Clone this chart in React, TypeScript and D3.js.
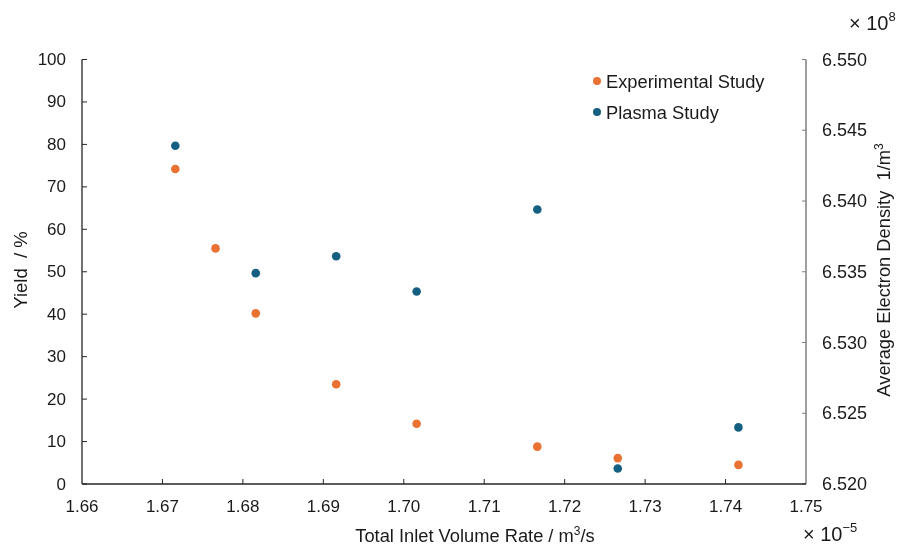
import { useEffect, useRef } from 'react'
import * as d3 from 'd3'

// x values are in units of 1e-5 m3/s
const expX = [1.6716, 1.6766, 1.6816, 1.6916, 1.7016, 1.7166, 1.7266, 1.7416]
const expYield = [74.2, 55.5, 40.2, 23.5, 14.2, 8.8, 6.1, 4.5]

// electron density in units of 1e8 1/m3
const plasmaX = [1.6716, 1.6816, 1.6916, 1.7016, 1.7166, 1.7266, 1.7416]
const plasmaDensity = [6.5439, 6.5349, 6.5361, 6.5336, 6.5394, 6.5211, 6.5240]

const xTicks = [1.66, 1.67, 1.68, 1.69, 1.70, 1.71, 1.72, 1.73, 1.74, 1.75]
const yTicks = [0, 10, 20, 30, 40, 50, 60, 70, 80, 90, 100]
const y2Ticks = [6.520, 6.525, 6.530, 6.535, 6.540, 6.545, 6.550]

const ORANGE = '#e97132'
const BLUE = '#156082'
const FONT = 'Liberation Sans, Arial, sans-serif'

export default function App() {
  const svgRef = useRef<SVGSVGElement | null>(null)

  useEffect(() => {
    if (!svgRef.current) return
    const svg = d3.select(svgRef.current)
    svg.selectAll('*').remove()

    const width = 900
    const height = 545
    const left = 82
    const right = 806
    const top = 59.5
    const bottom = 484

    svg.attr('width', width).attr('height', height)
      .style('font-family', FONT)

    const x = d3.scaleLinear().domain([1.66, 1.75]).range([left, right])
    const y = d3.scaleLinear().domain([0, 100]).range([bottom, top])
    const y2 = d3.scaleLinear().domain([6.520, 6.550]).range([bottom, top])

    // left axis
    svg.append('line')
      .attr('x1', left).attr('x2', left).attr('y1', top).attr('y2', bottom)
      .attr('stroke', '#262626').attr('stroke-width', 1.3)
    yTicks.forEach(t => {
      svg.append('line')
        .attr('x1', left).attr('x2', left + 5).attr('y1', y(t)).attr('y2', y(t))
        .attr('stroke', '#262626').attr('stroke-width', 1)
      svg.append('text')
        .attr('x', 66).attr('y', y(t))
        .attr('text-anchor', 'end').attr('dominant-baseline', 'central')
        .attr('font-size', 17).attr('fill', '#1a1a1a')
        .text(t)
    })

    // right axis
    svg.append('line')
      .attr('x1', right).attr('x2', right).attr('y1', top).attr('y2', bottom)
      .attr('stroke', '#7f7f7f').attr('stroke-width', 1.5)
    y2Ticks.forEach(t => {
      svg.append('line')
        .attr('x1', right - 4).attr('x2', right).attr('y1', y2(t)).attr('y2', y2(t))
        .attr('stroke', '#7f7f7f').attr('stroke-width', 1)
      svg.append('text')
        .attr('x', 822).attr('y', y2(t))
        .attr('text-anchor', 'start').attr('dominant-baseline', 'central')
        .attr('font-size', 18).attr('fill', '#1a1a1a')
        .text(d3.format('.3f')(t))
    })

    // bottom axis
    svg.append('line')
      .attr('x1', left).attr('x2', right).attr('y1', bottom).attr('y2', bottom)
      .attr('stroke', '#262626').attr('stroke-width', 1.3)
    xTicks.forEach(t => {
      if (t > 1.66 && t < 1.75) {
        svg.append('line')
          .attr('x1', x(t)).attr('x2', x(t)).attr('y1', bottom).attr('y2', bottom - 5)
          .attr('stroke', '#262626').attr('stroke-width', 1)
      }
      svg.append('text')
        .attr('x', x(t)).attr('y', 512)
        .attr('text-anchor', 'middle')
        .attr('font-size', 17).attr('fill', '#1a1a1a')
        .text(d3.format('.2f')(t))
    })

    // points
    svg.append('g').selectAll('circle')
      .data(expX.map((v, i) => [v, expYield[i]]))
      .join('circle')
      .attr('cx', d => x(d[0])).attr('cy', d => y(d[1]))
      .attr('r', 4.3).attr('fill', ORANGE)

    svg.append('g').selectAll('circle')
      .data(plasmaX.map((v, i) => [v, plasmaDensity[i]]))
      .join('circle')
      .attr('cx', d => x(d[0])).attr('cy', d => y2(d[1]))
      .attr('r', 4.3).attr('fill', BLUE)

    // legend
    const legend = [
      { label: 'Experimental Study', color: ORANGE, yy: 81 },
      { label: 'Plasma Study', color: BLUE, yy: 112 },
    ]
    legend.forEach(l => {
      svg.append('circle').attr('cx', 597).attr('cy', l.yy).attr('r', 4).attr('fill', l.color)
      svg.append('text')
        .attr('x', 606).attr('y', l.yy)
        .attr('dominant-baseline', 'central')
        .attr('font-size', 18.3).attr('fill', '#1a1a1a')
        .text(l.label)
    })

    // axis titles
    svg.append('text')
      .attr('transform', 'translate(27,270) rotate(-90)')
      .attr('text-anchor', 'middle')
      .attr('font-size', 18.5).attr('fill', '#1a1a1a')
      .attr('xml:space', 'preserve')
      .text('Yield  / %')

    const rt = svg.append('text')
      .attr('transform', 'translate(890,270) rotate(-90)')
      .attr('text-anchor', 'middle')
      .attr('font-size', 18.3).attr('fill', '#1a1a1a')
      .attr('xml:space', 'preserve')
    rt.append('tspan').text('Average Electron Density  1/m')
    rt.append('tspan').attr('dy', -7).attr('font-size', 12).text('3')

    const xt = svg.append('text')
      .attr('x', 475).attr('y', 542)
      .attr('text-anchor', 'middle')
      .attr('font-size', 18.3).attr('fill', '#1a1a1a')
    xt.append('tspan').text('Total Inlet Volume Rate / m')
    xt.append('tspan').attr('dy', -7).attr('font-size', 12).text('3')
    xt.append('tspan').attr('dy', 7).text('/s')

    // exponent labels
    const e8 = svg.append('text')
      .attr('x', 849).attr('y', 30)
      .attr('font-size', 20).attr('fill', '#1a1a1a')
    e8.append('tspan').text('× 10')
    e8.append('tspan').attr('dy', -9).attr('font-size', 13).text('8')

    const e5 = svg.append('text')
      .attr('x', 803).attr('y', 541)
      .attr('font-size', 20).attr('fill', '#1a1a1a')
    e5.append('tspan').text('× 10')
    e5.append('tspan').attr('dy', -9).attr('font-size', 13).text('−5')
  }, [])

  return (
    <div style={{ position: 'fixed', top: 0, left: 0, width: 900, height: 545 }}>
      <svg ref={svgRef} style={{ display: 'block' }} />
    </div>
  )
}
